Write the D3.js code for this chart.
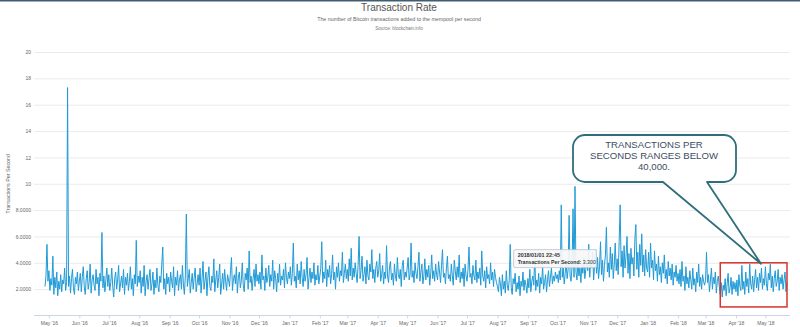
<!DOCTYPE html>
<html>
<head>
<meta charset="utf-8">
<script src="https://cdn.jsdelivr.net/npm/d3@7/dist/d3.min.js"></script>
<style>
  html, body { margin: 0; padding: 0; background: #fff; }
  svg { display: block; font-family: "Liberation Sans", Arial, sans-serif; }
</style>
</head>
<body>
<svg id="chart" width="800" height="327"></svg>
<script>
// Daily transaction rate (thousands), starting 27 Apr 2016, one row per month.
const seriesStart = new Date(2016, 3, 27);
const stepDays = 1;
const rateValues = [
  // Apr 2016
  2.2, 3.0, 5.4, 2.6,
  // May 2016
  3.4, 1.9, 2.8, 2.3, 4.5, 1.6, 2.9, 2.1, 3.3, 1.5, 2.6, 2.0, 3.1, 1.8, 2.7, 2.4, 3.6, 1.9, 2.5, 17.3, 2.2, 3.0, 1.7, 2.8, 3.5, 2.1, 1.6, 2.9, 2.4, 3.3, 1.9,
  // Jun 2016
  2.6, 3.2, 1.8, 2.9, 3.7, 2.2, 1.6, 2.8, 3.4, 2.0, 2.5, 3.9, 1.7, 2.7, 3.1, 2.3, 1.9, 3.5, 2.4, 2.9, 1.5, 3.2, 2.6, 6.3, 2.1, 3.0, 1.8, 2.7, 3.6, 2.2,
  // Jul 2016
  3.1, 1.9, 2.5, 3.6, 2.2, 1.4, 2.8, 3.3, 2.0, 2.7, 3.8, 1.8, 2.4, 3.0, 2.1, 3.5, 1.6, 2.9, 2.3, 3.2, 1.9, 2.6, 3.7, 2.0, 2.8, 1.5, 3.1, 2.4, 5.7, 2.2, 3.0,
  // Aug 2016
  2.5, 3.4, 1.7, 2.9, 2.2, 3.8, 1.5, 2.6, 3.1, 2.0, 2.8, 3.5, 1.9, 2.4, 3.3, 1.6, 2.7, 2.1, 3.6, 2.3, 1.8, 3.0, 2.5, 3.9, 5.2, 2.0, 2.8, 1.6, 3.2, 2.4, 2.9,
  // Sep 2016
  1.8, 3.3, 2.6, 2.1, 3.7, 1.5, 2.9, 2.3, 3.4, 1.9, 2.7, 3.1, 2.0, 3.8, 2.4, 1.6, 3.0, 7.7, 2.2, 2.8, 3.5, 1.7, 2.5, 3.2, 2.0, 2.9, 3.6, 1.8, 2.4, 3.1,
  // Oct 2016
  2.3, 3.6, 1.7, 2.8, 4.1, 2.0, 2.6, 3.3, 1.5, 2.9, 3.7, 2.2, 1.9, 3.0, 2.5, 4.3, 1.8, 2.7, 3.4, 2.1, 2.9, 3.9, 1.6, 2.4, 3.2, 2.0, 3.5, 2.6, 1.9, 3.1, 2.7,
  // Nov 2016
  2.2, 3.4, 4.4, 1.9, 2.8, 3.1, 2.4, 3.7, 1.7, 2.9, 3.3, 2.1, 2.6, 4.0, 2.3, 1.8, 3.2, 2.7, 3.6, 2.0, 4.9, 2.5, 3.0, 1.9, 2.8, 3.5, 2.2, 3.9, 2.6, 3.1,
  // Dec 2016
  2.4, 3.3, 2.0, 4.6, 2.7, 3.0, 1.9, 3.6, 2.5, 2.9, 3.8, 2.2, 3.1, 2.6, 4.2, 2.0, 3.4, 2.8, 1.8, 3.2, 2.5, 3.9, 2.3, 3.0, 2.7, 3.5, 2.1, 4.0, 2.9, 2.4, 3.3,
  // Jan 2017
  2.8, 3.7, 2.3, 3.2, 5.5, 2.6, 3.0, 2.1, 3.9, 2.7, 3.4, 2.4, 4.1, 2.9, 2.2, 3.5, 2.6, 3.1, 4.4, 2.0, 2.9, 3.6, 2.5, 3.3, 2.8, 4.0, 2.3, 3.1, 2.7, 3.8, 2.4,
  // Feb 2017
  3.0, 3.6, 5.6, 2.5, 3.3, 2.8, 4.2, 2.2, 3.5, 2.9, 3.8, 2.4, 3.1, 4.6, 2.7, 3.3, 2.0, 3.7, 2.9, 4.0, 2.6, 3.4, 3.0, 4.8, 2.5, 3.2, 3.9, 2.8,
  // Mar 2017
  3.5, 2.6, 4.3, 3.0, 5.1, 2.7, 3.6, 2.9, 4.0, 3.2, 2.5, 3.8, 6.0, 2.8, 3.4, 4.5, 2.6, 3.1, 3.7, 2.4, 4.2, 3.0, 2.7, 3.9, 3.3, 5.0, 2.8, 3.5, 2.5, 3.6, 4.1,
  // Apr 2017
  2.9, 3.4, 4.7, 2.6, 3.1, 3.8, 2.4, 3.3, 2.8, 5.3, 3.0, 2.5, 3.7, 4.1, 2.7, 3.2, 2.3, 3.9, 3.0, 2.6, 4.4, 3.1, 2.8, 3.5, 2.2, 3.8, 4.2, 2.7, 3.3, 2.9,
  // May 2017
  3.6, 4.4, 2.7, 3.1, 5.5, 2.9, 3.4, 2.5, 4.0, 3.2, 2.8, 3.7, 4.8, 2.6, 3.3, 3.9, 2.4, 3.0, 4.3, 2.7, 3.5, 2.9, 3.8, 2.3, 3.2, 4.6, 2.8, 3.4, 2.6, 3.9, 3.1,
  // Jun 2017
  2.7, 4.1, 3.3, 2.5, 3.8, 5.0, 2.9, 3.2, 2.4, 3.6, 4.5, 2.8, 3.1, 2.6, 3.9, 3.0, 2.3, 4.2, 3.4, 2.7, 3.7, 2.9, 4.6, 2.5, 3.3, 2.8, 3.6, 2.2, 3.9, 3.0,
  // Jul 2017
  2.6, 3.5, 5.2, 2.9, 3.2, 2.4, 3.8, 3.0, 2.7, 4.2, 2.5, 3.3, 2.8, 3.6, 2.3, 4.9, 3.0, 2.6, 3.4, 2.1, 3.7, 2.8, 3.1, 2.4, 4.0, 2.7, 3.3, 2.2, 3.5, 2.9, 2.5,
  // Aug 2017
  2.2, 1.8, 2.9, 2.4, 1.5, 3.1, 2.0, 2.6, 1.7, 3.4, 2.3, 1.9, 2.7, 5.4, 2.1, 1.6, 2.8, 2.4, 3.2, 1.8, 2.5, 2.0, 3.0, 1.5, 2.6, 2.2, 3.3, 1.9, 2.7, 2.3, 1.7,
  // Sep 2017
  2.8, 2.1, 3.5, 1.8, 2.6, 3.0, 2.3, 4.6, 1.9, 2.7, 2.2, 3.2, 1.7, 2.9, 2.4, 3.8, 2.0, 2.5, 3.1, 1.8, 2.7, 3.4, 2.2, 2.9, 3.6, 2.4, 3.0, 2.6, 3.3, 2.8,
  // Oct 2017
  3.1, 2.5, 3.4, 2.7, 8.4, 2.9, 3.6, 2.4, 3.2, 4.0, 2.8, 3.5, 7.6, 3.0, 2.6, 3.7, 8.1, 2.9, 9.8, 3.3, 2.7, 4.1, 3.0, 3.6, 2.5, 3.9, 3.2, 4.4, 2.8, 3.5, 4.2,
  // Nov 2017
  3.4, 5.4, 2.9, 4.1, 3.6, 4.8, 2.7, 3.9, 5.0, 3.2, 4.4, 2.8, 3.7, 5.6, 3.1, 4.2, 2.6, 3.8, 4.6, 6.7, 3.3, 4.0, 2.9, 5.2, 3.5, 4.7, 2.8, 3.9, 5.5, 3.4,
  // Dec 2017
  4.3, 3.1, 5.6, 8.4, 3.7, 4.9, 2.9, 5.3, 3.6, 4.5, 6.0, 3.2, 4.7, 2.8, 5.1, 3.9, 4.4, 3.0, 5.8, 6.9, 3.5, 4.8, 2.9, 5.4, 3.8, 6.2, 3.3, 4.6, 3.0, 5.0, 3.6,
  // Jan 2018
  3.3, 4.8, 2.9, 5.5, 3.6, 4.2, 2.7, 4.9, 3.4, 3.9, 2.6, 4.5, 3.1, 3.7, 2.5, 4.0, 3.2, 4.6, 2.8, 3.5, 2.4, 4.1, 3.0, 3.6, 2.7, 3.9, 2.3, 3.3, 2.9, 3.8, 2.6,
  // Feb 2018
  3.2, 2.4, 3.5, 2.2, 4.1, 2.6, 3.0, 1.9, 3.7, 2.4, 2.9, 2.1, 3.4, 2.7, 2.0, 3.6, 2.3, 2.8, 1.8, 3.3, 2.5, 3.9, 2.2, 2.9, 2.0, 3.1, 2.6, 2.3,
  // Mar 2018
  2.7, 4.8, 2.5, 3.1, 1.8, 2.7, 3.6, 2.0, 2.9, 2.4, 3.3, 1.7, 2.6, 3.0, 2.2, 1.6, 2.5, 1.4, 2.3, 1.9, 2.8, 1.5, 2.4, 3.2, 1.7, 2.1, 2.9, 1.6, 2.6, 2.0, 2.5,
  // Apr 2018
  1.8, 2.7, 1.5, 3.1, 2.2, 1.9, 3.8, 2.0, 2.6, 1.6, 3.3, 2.2, 2.8, 1.7, 3.9, 2.4, 2.0, 3.0, 1.8, 2.7, 3.5, 2.1, 2.9, 1.9, 3.2, 2.5, 3.6, 2.0, 2.8, 2.3,
  // May 2018
  3.7, 2.4, 1.9, 3.2, 2.7, 3.9, 2.1, 3.0, 1.8, 2.8, 3.4, 2.2, 2.6, 3.5, 1.9, 2.9, 2.4, 3.1, 2.0, 2.7, 3.3, 1.8, 2.5
];

// Y axis ticks and the labels printed beside them
const yTickValues = [2, 4, 6, 8, 10, 12, 14, 16, 18, 20];
const yTickLabels = ["2.0000", "4.0000", "6.0000", "8.0000", "10", "12", "14", "16", "18", "20"];

// Month ticks on the time axis
const xTickStart = new Date(2016, 4, 1);
const xTickEnd = new Date(2018, 4, 2);

// Hover readout
const tooltipPoint = { date: new Date(2018, 0, 1), stamp: "2018/01/01 22:45", value: 3.3 };

// Highlighted recent window
const highlightRange = { from: new Date(2018, 2, 16), to: new Date(2018, 4, 23), low: 0.65, high: 4.0 };

// Callout text
const calloutLines = ["TRANSACTIONS PER", "SECONDS RANGES BELOW", "40,000."];

const data = rateValues.map((v, i) => ({ date: d3.timeDay.offset(seriesStart, i * stepDays), value: v }));

const svg = d3.select("#chart");
const W = 800;

const x = d3.scaleTime()
  .domain([seriesStart, data[data.length - 1].date])
  .range([45, 787]);
const y = d3.scaleLinear().domain([0, 20]).range([315.5, 52]);

const plotLeft = 34, plotRight = 790;

// top band
svg.append("rect").attr("x", 0).attr("y", 0).attr("width", W).attr("height", 1.5).attr("fill", "#3f5d72");

// titles
svg.append("text").attr("x", 399).attr("y", 11).attr("text-anchor", "middle")
  .attr("font-size", 10).attr("fill", "#555").text("Transaction Rate");
svg.append("text").attr("x", 399).attr("y", 21).attr("text-anchor", "middle")
  .attr("font-size", 5.3).attr("fill", "#666").text("The number of Bitcoin transactions added to the mempool per second");
svg.append("text").attr("x", 399).attr("y", 30).attr("text-anchor", "middle")
  .attr("font-size", 4.6).attr("fill", "#777").text("Source: blockchain.info");

// y grid + labels
const yAxis = d3.axisLeft(y)
  .tickValues(yTickValues)
  .tickSize(-(plotRight - plotLeft))
  .tickFormat((d, i) => yTickLabels[i]);
const gy = svg.append("g").attr("transform", `translate(${plotLeft},0)`).call(yAxis);
gy.select(".domain").remove();
gy.selectAll(".tick line").attr("stroke", "#e6e6e6").attr("stroke-width", 0.8);
gy.selectAll(".tick text").attr("x", -3).attr("font-size", 5).attr("fill", "#666")
  .attr("font-family", "Liberation Sans, Arial, sans-serif");

// y axis title
svg.append("text")
  .attr("transform", `translate(10,${(y(0) + y(20)) / 2}) rotate(-90)`)
  .attr("text-anchor", "middle").attr("font-size", 5.3).attr("fill", "#666")
  .text("Transactions Per Second");

// x axis
const months = d3.timeMonth.range(xTickStart, xTickEnd);
const xAxis = d3.axisBottom(x)
  .tickValues(months)
  .tickSize(3)
  .tickFormat(d3.timeFormat("%b '%y"));
const gx = svg.append("g").attr("transform", `translate(0,${y(0)})`).call(xAxis);
gx.select(".domain").attr("d", `M${plotLeft},0H${plotRight}`).attr("stroke", "#ccd6eb");
gx.selectAll(".tick line").attr("stroke", "#ccd6eb");
gx.selectAll(".tick text").attr("y", 6).attr("font-size", 5).attr("fill", "#666")
  .attr("font-family", "Liberation Sans, Arial, sans-serif");

// series line
const line = d3.line().x(d => x(d.date)).y(d => y(d.value));
svg.append("path").datum(data)
  .attr("d", line)
  .attr("fill", "none")
  .attr("stroke", "#1f9ad6")
  .attr("stroke-width", 1)
  .attr("stroke-linejoin", "round");

// tooltip
const tpX = x(tooltipPoint.date);
const tip = svg.append("g").attr("transform", `translate(${tpX - 134},${y(5.0)})`);
tip.append("rect").attr("x", 0).attr("y", 0).attr("width", 83).attr("height", 18).attr("rx", 1.5)
  .attr("fill", "#f7f7f7").attr("fill-opacity", 0.92).attr("stroke", "#b8c4d0").attr("stroke-width", 0.8);
tip.append("text").attr("x", 4).attr("y", 7.2).attr("font-size", 5.4).attr("font-weight", "bold").attr("fill", "#333")
  .text(tooltipPoint.stamp);
const t2 = tip.append("text").attr("x", 4).attr("y", 14).attr("font-size", 5.2).attr("fill", "#333");
t2.append("tspan").attr("font-weight", "bold").text("Transactions Per Second: ");
t2.append("tspan").text(d3.format(".3f")(tooltipPoint.value));

// highlight box
svg.append("rect")
  .attr("x", x(highlightRange.from)).attr("y", y(highlightRange.high))
  .attr("width", x(highlightRange.to) - x(highlightRange.from))
  .attr("height", y(highlightRange.low) - y(highlightRange.high))
  .attr("fill", "none").attr("stroke", "#d8342c").attr("stroke-width", 1.5);

// callout bubble with tail pointing at the highlight box
const bx0 = 573, bx1 = 736, by0 = 135, by1 = 182, r = 12;
const tipPt = [761, y(highlightRange.high) + 1];
const bubble = d3.path();
bubble.moveTo(bx0 + r, by0);
bubble.lineTo(bx1 - r, by0);
bubble.arcTo(bx1, by0, bx1, by0 + r, r);
bubble.lineTo(bx1, by1 - r);
bubble.arcTo(bx1, by1, bx1 - r, by1, r);
bubble.lineTo(707, by1);
bubble.lineTo(tipPt[0], tipPt[1]);
bubble.lineTo(663, by1);
bubble.lineTo(bx0 + r, by1);
bubble.arcTo(bx0, by1, bx0, by1 - r, r);
bubble.lineTo(bx0, by0 + r);
bubble.arcTo(bx0, by0, bx0 + r, by0, r);
bubble.closePath();
svg.append("path").attr("d", bubble.toString())
  .attr("fill", "#ffffff").attr("stroke", "#2f6f7b").attr("stroke-width", 1.8)
  .attr("stroke-linejoin", "round");
svg.append("g").selectAll("text").data(calloutLines).join("text")
  .attr("x", 654).attr("y", (d, i) => 148 + i * 11)
  .attr("text-anchor", "middle").attr("font-size", 9.6).attr("fill", "#3d4d60")
  .text(d => d);
</script>
</body>
</html>
